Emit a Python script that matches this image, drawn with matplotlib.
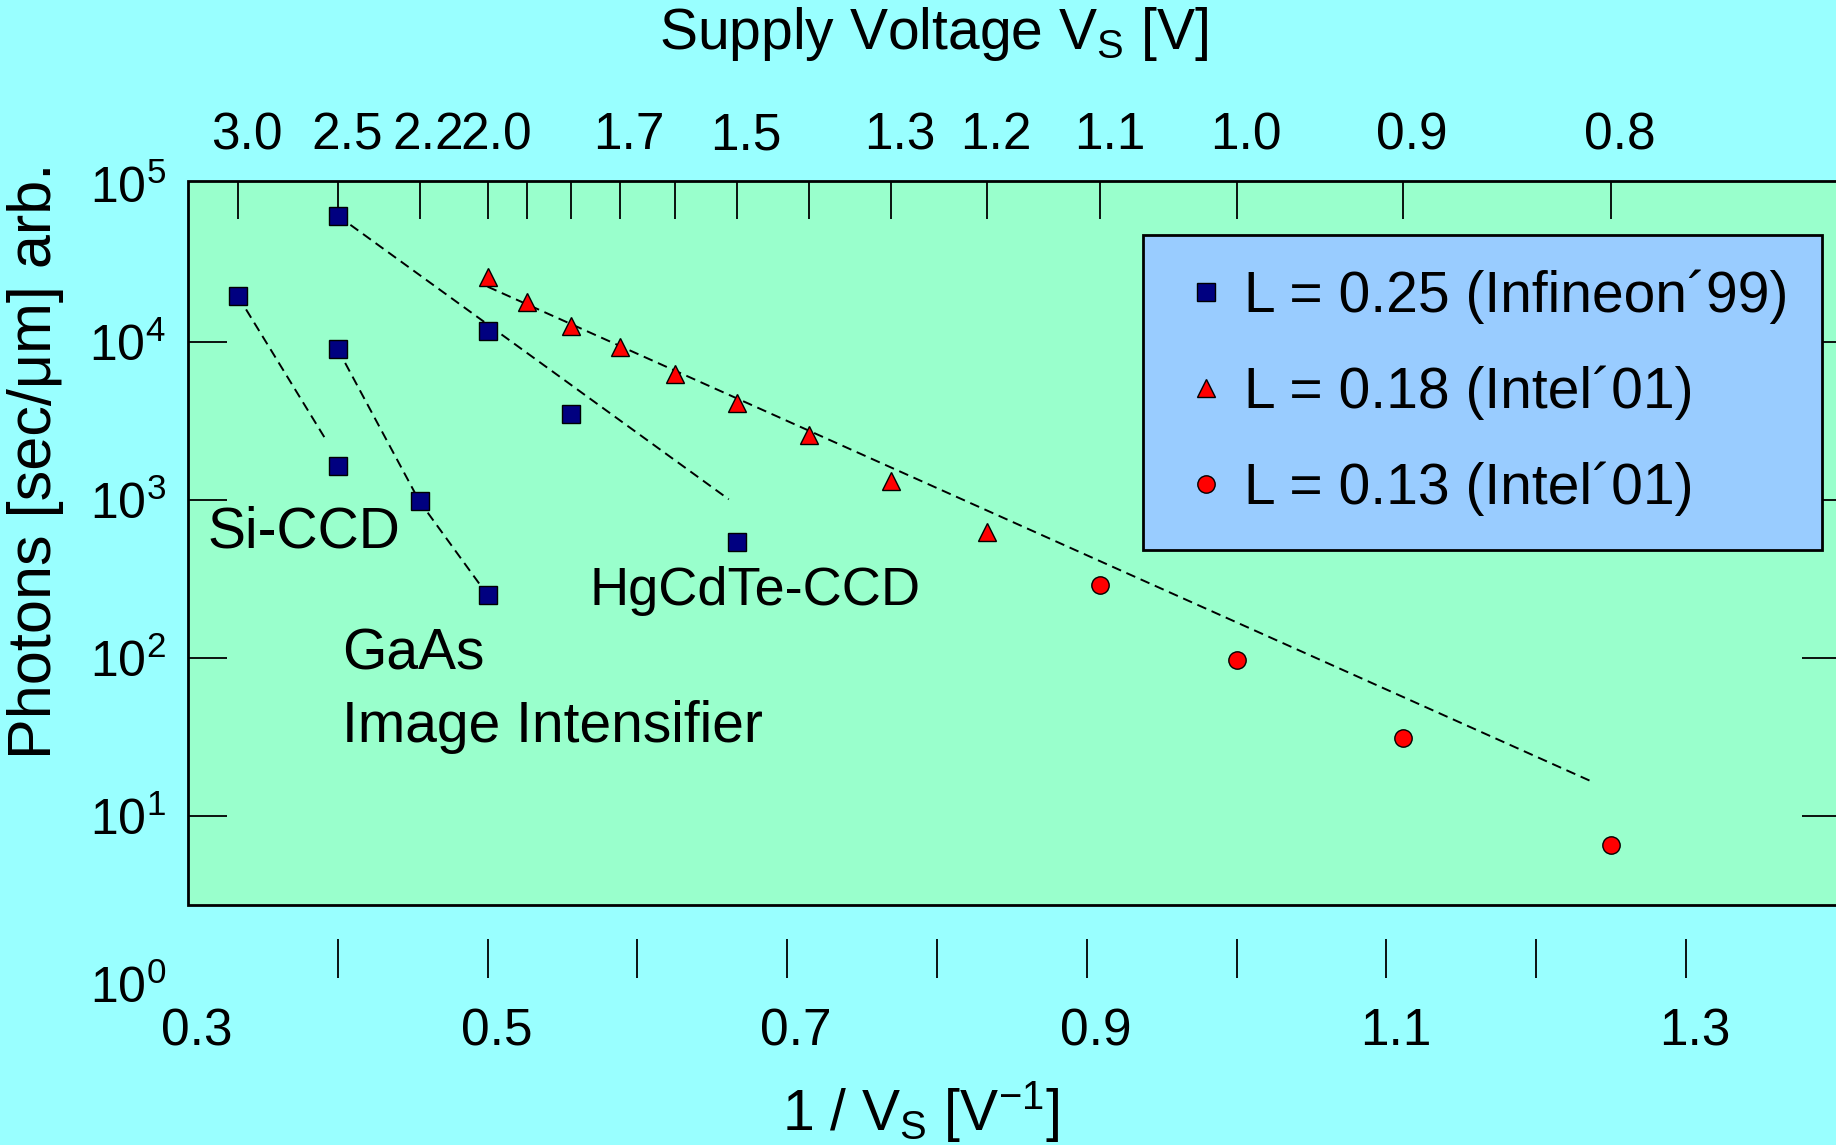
import numpy as np
import matplotlib
matplotlib.use("Agg")
import matplotlib.pyplot as plt
import matplotlib.transforms as mtransforms

plt.rcParams['font.family'] = ['Liberation Sans', 'DejaVu Sans']
plt.rcParams['mathtext.fontset'] = 'custom'
plt.rcParams['mathtext.rm'] = 'Liberation Sans'
plt.rcParams['mathtext.it'] = 'Liberation Sans:italic'
plt.rcParams['mathtext.bf'] = 'Liberation Sans:bold'

# supply voltage [V] and photons [arb.] per device
si_v = [3.0, 2.5]
si_ph = [1.95e4, 1.65e3]
gaas_v = [2.5, 2.2, 2.0]
gaas_ph = [9.0e3, 9.8e2, 2.5e2]
hgcdte_v = [2.5, 2.0, 1.8, 1.5]
hgcdte_ph = [6.3e4, 1.18e4, 3.5e3, 5.4e2]
intel18_v = [2.0, 1.9, 1.8, 1.7, 1.6, 1.5, 1.4, 1.3, 1.2]
intel18_ph = [2.57e4, 1.8e4, 1.27e4, 9.3e3, 6.3e3, 4.1e3, 2.57e3, 1.32e3, 6.3e2]
intel13_v = [1.1, 1.0, 0.9, 0.8]
intel13_ph = [290, 97, 31, 6.6]

# dashed guide lines: (1/V, photons) end points
si_fit_x, si_fit_y = [1 / 3.0, 0.391], [1.95e4, 2.5e3]
hg_fit_x, hg_fit_y = [0.4, 0.661], [6.3e4, 1.01e3]
intel_fit_x, intel_fit_y = [0.5, 1.236], [2.24e4, 16.7]

bottom_ticks = [0.3, 0.4, 0.5, 0.6, 0.7, 0.8, 0.9, 1.0, 1.1, 1.2, 1.3]
bottom_labels = ['0.3', '', '0.5', '', '0.7', '', '0.9', '', '1.1', '', '1.3']
top_ticks = [3.0, 2.5, 2.2, 2.0, 1.9, 1.8, 1.7, 1.6, 1.5, 1.4, 1.3, 1.2, 1.1, 1.0, 0.9, 0.8]
top_labels = ['3.0', '2.5', '2.2', '2.0', '', '', '1.7', '', '1.5', '', '1.3',
              '1.2', '1.1', '1.0', '0.9', '0.8']
y_ticks = [1e0, 1e1, 1e2, 1e3, 1e4, 1e5]
y_labels = ['$10^{%d}$' % i for i in range(6)]

W, H = 1836, 1145
fig = plt.figure(figsize=(W / 100, H / 100), dpi=100, facecolor='#99FFFF')
ax = fig.add_axes([188 / W, 1 - 978 / H, 1653 / W, 797 / H])
ax.set_facecolor('none')
ax.set_yscale('log')
ax.set_xlim(0.3, 0.3 + 1653 / 1498)
y_top = 10 ** 5.019
ax.set_ylim(10 ** -0.0253, y_top)
for s in ax.spines.values():
    s.set_visible(False)

# green plot box (the axis itself runs further down to 10^0)
ax.axhspan(2.72, y_top, facecolor='#99FFCC', edgecolor='black', lw=2,
           zorder=0, clip_on=False)

dash = dict(color='black', lw=1.4, linestyle=(0, (5, 3)), zorder=2)
ax.plot(si_fit_x, si_fit_y, **dash)
ax.plot(1 / np.array(gaas_v), gaas_ph, **dash)
ax.plot(hg_fit_x, hg_fit_y, **dash)
ax.plot(intel_fit_x, intel_fit_y, **dash)

mk = dict(linestyle='none', markeredgecolor='black', markeredgewidth=1.0, zorder=3)
h1, = ax.plot(1 / np.array(si_v), si_ph, marker='s', ms=12.5, color='#000080',
              label='L = 0.25 (Infineon\u00b499)', **mk)
ax.plot(1 / np.array(gaas_v), gaas_ph, marker='s', ms=12.5, color='#000080', **mk)
ax.plot(1 / np.array(hgcdte_v), hgcdte_ph, marker='s', ms=12.5, color='#000080', **mk)
h2, = ax.plot(1 / np.array(intel18_v), intel18_ph, marker='^', ms=13.5, color='red',
              label='L = 0.18 (Intel\u00b401)', **mk)
h3, = ax.plot(1 / np.array(intel13_v), intel13_ph, marker='o', ms=12.5, color='red',
              label='L = 0.13 (Intel\u00b401)', **mk)

ax.text(0.3127, 504, 'Si-CCD', fontsize=41, va='baseline')
ax.text(0.4028, 84, 'GaAs', fontsize=41, va='baseline')
ax.text(0.4028, 29.4, 'Image Intensifier', fontsize=41, va='baseline')
ax.text(0.5677, 216, 'HgCdTe-CCD', fontsize=39, va='baseline')

leg = ax.legend(handles=[h1, h2, h3], loc='upper left',
                bbox_to_anchor=(1143 / W, 1 - 235 / H), bbox_transform=fig.transFigure,
                borderaxespad=0, fontsize=41, fancybox=False, facecolor='#99CCFF',
                edgecolor='black', framealpha=1, borderpad=0.6, labelspacing=0.73,
                handlelength=1.0, handletextpad=0.17)
leg.get_frame().set_linewidth(2)

# ticks
ax.set_xticks(bottom_ticks, labels=bottom_labels)
ax.set_yticks(y_ticks, labels=y_labels)
ax.minorticks_off()
ax.tick_params(axis='x', direction='in', length=28, width=1.3, top=False,
               bottom=True, labelsize=37, pad=21)
ax.tick_params(axis='y', direction='in', length=28, width=1.3, left=True,
               right=True, labelsize=36, pad=16)
xt = ax.xaxis.get_major_ticks()
xt[0].tick1line.set_visible(False)
yt = ax.yaxis.get_major_ticks()
for t in (yt[0], yt[-1]):
    t.tick1line.set_visible(False)
    t.tick2line.set_visible(False)


def inv(x):
    x = np.array(x, dtype=float)
    near_zero = np.isclose(x, 0)
    x[near_zero] = np.inf
    x[~near_zero] = 1 / x[~near_zero]
    return x


sec = ax.secondary_xaxis('top', functions=(inv, inv))
sec.set_xticks(top_ticks, labels=top_labels)
sec.tick_params(direction='in', length=27, width=1.3, labelsize=37, pad=15)
sec.spines['top'].set_visible(False)

# axis titles
ax.set_xlabel('1 / V$_{\\mathrm{S}}$ [V$^{\\mathrm{-1}}$]', fontsize=41)
ax.xaxis.set_label_coords(0.4434, -0.127)
sec.set_xlabel('Supply Voltage V$_{\\mathrm{S}}$ [V]', fontsize=41)
sec.xaxis.set_label_coords(0.4513, 1.166, transform=ax.transAxes)
ax.set_ylabel('Photons [sec/\u03bcm] arb.', fontsize=44)
ax.yaxis.set_label_coords(-0.075, 0.6487)

# tick labels sit slightly right of their ticks in the original
shift = mtransforms.ScaledTranslation(9 / 100, 0, fig.dpi_scale_trans)
for lab in ax.get_xticklabels() + sec.get_xticklabels():
    lab.set_transform(lab.get_transform() + shift)
# the 10^0 label sits a little lower
drop = mtransforms.ScaledTranslation(0, -10 / 100, fig.dpi_scale_trans)
lab0 = ax.get_yticklabels()[0]
lab0.set_transform(lab0.get_transform() + drop)

fig.savefig('out.png', dpi=100, facecolor=fig.get_facecolor())
